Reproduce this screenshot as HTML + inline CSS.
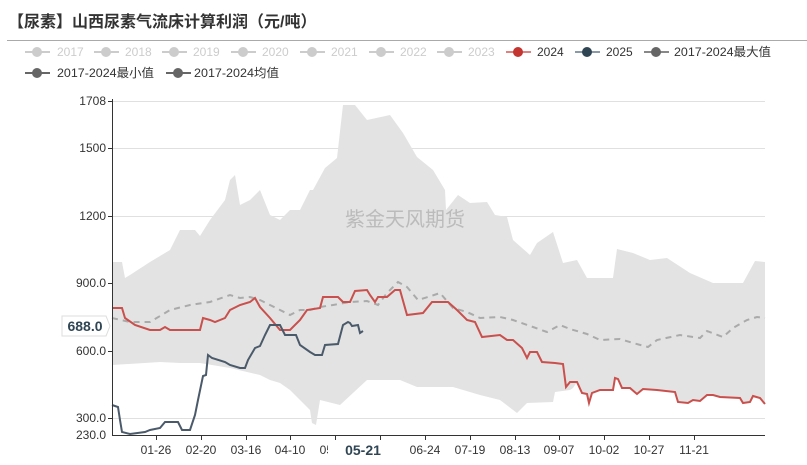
<!DOCTYPE html>
<html><head><meta charset="utf-8"><style>
body{margin:0;background:#fff;width:807px;height:460px;overflow:hidden;font-family:"Liberation Sans","Noto Sans CJK SC",sans-serif}
</style></head><body>
<svg width="807" height="460" xmlns="http://www.w3.org/2000/svg" font-family="Liberation Sans, Noto Sans CJK SC, sans-serif">
<defs><clipPath id="c5"><rect x="300" y="440" width="28" height="20"/></clipPath></defs>
<text x="8" y="27" font-size="16" font-weight="bold" fill="#333">【尿素】山西尿素气流床计算利润（元/吨）</text>
<line x1="7" y1="40.5" x2="807" y2="40.5" stroke="#aaa" stroke-width="1"/>
<g font-size="12">
<g fill="#ccc" stroke="#ccc">
<line x1="25" y1="52" x2="50" y2="52" stroke-width="2"/><circle cx="37" cy="52" r="5" stroke="none"/>
<line x1="94" y1="52" x2="119" y2="52" stroke-width="2"/><circle cx="106" cy="52" r="5" stroke="none"/>
<line x1="162" y1="52" x2="187" y2="52" stroke-width="2"/><circle cx="174" cy="52" r="5" stroke="none"/>
<line x1="231" y1="52" x2="256" y2="52" stroke-width="2"/><circle cx="243" cy="52" r="5" stroke="none"/>
<line x1="300" y1="52" x2="325" y2="52" stroke-width="2"/><circle cx="312" cy="52" r="5" stroke="none"/>
<line x1="369" y1="52" x2="394" y2="52" stroke-width="2"/><circle cx="381" cy="52" r="5" stroke="none"/>
<line x1="437" y1="52" x2="462" y2="52" stroke-width="2"/><circle cx="449" cy="52" r="5" stroke="none"/>
</g>
<g fill="#ccc">
<text x="57" y="56">2017</text><text x="125" y="56">2018</text><text x="193" y="56">2019</text><text x="262" y="56">2020</text><text x="331" y="56">2021</text><text x="400" y="56">2022</text><text x="468" y="56">2023</text>
</g>
<line x1="506" y1="52" x2="531" y2="52" stroke="#e08080" stroke-width="2"/><circle cx="518" cy="52" r="5" fill="#c23531"/>
<text x="537" y="56" fill="#333">2024</text>
<line x1="575" y1="52" x2="600" y2="52" stroke="#8a9aa8" stroke-width="2"/><circle cx="587" cy="52" r="5" fill="#2f4554"/>
<text x="606" y="56" fill="#333">2025</text>
<line x1="644" y1="52" x2="669" y2="52" stroke="#888" stroke-width="2"/><circle cx="656" cy="52" r="5" fill="#666"/>
<text x="674" y="56" fill="#333" textLength="97" lengthAdjust="spacingAndGlyphs">2017-2024最大值</text>
<line x1="25" y1="73" x2="50" y2="73" stroke="#666" stroke-width="2"/><circle cx="37" cy="73" r="5" fill="#666"/>
<text x="57" y="77" fill="#333" textLength="97" lengthAdjust="spacingAndGlyphs">2017-2024最小值</text>
<line x1="166" y1="73" x2="191" y2="73" stroke="#666" stroke-width="2"/><circle cx="178" cy="73" r="5" fill="#666"/>
<text x="194" y="77" fill="#333" textLength="85" lengthAdjust="spacingAndGlyphs">2017-2024均值</text>
</g>
<g stroke="#e0e0e0" stroke-width="1">
<line x1="112" y1="101.5" x2="765" y2="101.5"/><line x1="112" y1="148.5" x2="765" y2="148.5"/><line x1="112" y1="216.5" x2="765" y2="216.5"/><line x1="112" y1="283.5" x2="765" y2="283.5"/><line x1="112" y1="351.5" x2="765" y2="351.5"/><line x1="112" y1="418.5" x2="765" y2="418.5"/>
</g>
<polygon fill="#e3e3e3" points="112,262 122,262 125,278 130,275 150,262 170,250 180,230 195,230 200,236 210,220 225,200 230,180 235,175 240,205 250,200 260,190 270,215 280,220 290,210 300,210 310,190 313,190 325,168 337,158 343,105 355,105 367,120 390,115 403,133 417,157 433,170 445,190 446,210 458,195 470,203 487,202 495,215 507,217 513,240 530,255 537,243 553,232 563,263 577,260 587,278 613,278 617,249 633,253 650,260 667,258 690,273 713,283 743,283 755,261 765,262 765,404 760,398 753,396 750,402 743,403 740,398 720,397 713,395 707,395 700,401 693,400 688,403 678,402 675,392 657,390 643,389 637,394 630,388 622,388 618,379 615,378 613,390 600,390 592,393 589,403 587,394 582,393 577,382 573,388 570,390 555,392 553,402 527,403 517,413 500,400 480,395 453,387 417,387 400,380 367,380 340,405 320,400 316,425 312,423 310,410 300,400 290,390 280,383 270,380 260,375 230,368 200,363 180,363 160,362 112,365"/>
<text x="405" y="226" font-size="20" fill="#bbb" text-anchor="middle">紫金天风期货</text>
<polyline fill="none" stroke="#aaa" stroke-width="2" stroke-dasharray="6,5" points="112,318 130,322 150,322 170,310 190,305 210,302 230,295 240,298 250,297 260,300 280,310 290,315 300,310 310,310 320,307 333,305 350,302 367,301 378,305 387,293 398,282 407,287 418,300 428,297 440,293 453,308 467,312 480,318 500,317 513,320 533,327 547,332 560,325 570,329 587,334 600,340 620,339 633,343 648,347 657,340 680,335 700,338 707,331 723,337 733,328 747,320 757,317 765,318"/>
<polyline fill="none" stroke="#c9504c" stroke-width="2" points="112,308 122,308 125,318 135,325 150,330 160,330 165,327 170,330 200,330 203,318 210,320 215,322 225,318 230,310 240,305 250,302 255,298 260,307 270,318 280,330 290,330 300,320 307,310 320,308 323,297 338,297 343,302 350,302 355,291 367,290 370,295 375,302 378,297 387,297 395,290 400,290 407,315 423,313 432,302 448,302 457,310 467,320 475,322 482,337 500,335 507,340 513,340 522,348 527,358 530,352 537,352 542,362 555,363 563,364 566,387 570,382 577,382 582,393 587,394 589,403 592,393 600,390 613,390 615,378 618,379 622,388 630,388 637,394 643,389 657,390 675,392 678,402 688,403 693,400 700,401 707,395 713,395 720,397 740,398 743,403 750,402 753,396 760,398 765,404"/>
<polyline fill="none" stroke="#4a5a6a" stroke-width="2" points="112,405 118,407 120,420 122,432 130,434 145,432 150,430 160,428 165,422 178,422 182,430 190,430 195,415 198,400 203,376 206,375 208,355 212,358 225,362 230,365 240,368 245,368 248,360 255,348 260,346 265,335 270,325 280,325 285,335 296,335 300,345 310,352 315,355 322,355 325,345 338,344 343,325 348,322 350,323 352,326 358,325 360,333 363,331"/>
<g stroke="#333" stroke-width="1">
<line x1="112.5" y1="99" x2="112.5" y2="435"/><line x1="112" y1="435.5" x2="765" y2="435.5"/>
<line x1="108" y1="101.5" x2="112" y2="101.5"/><line x1="108" y1="148.5" x2="112" y2="148.5"/><line x1="108" y1="216.5" x2="112" y2="216.5"/><line x1="108" y1="283.5" x2="112" y2="283.5"/><line x1="108" y1="351.5" x2="112" y2="351.5"/><line x1="108" y1="418.5" x2="112" y2="418.5"/>
<line x1="156.5" y1="435" x2="156.5" y2="440"/><line x1="201.5" y1="435" x2="201.5" y2="440"/><line x1="246.5" y1="435" x2="246.5" y2="440"/><line x1="290.5" y1="435" x2="290.5" y2="440"/><line x1="335.5" y1="435" x2="335.5" y2="440"/><line x1="380.5" y1="435" x2="380.5" y2="440"/><line x1="425.5" y1="435" x2="425.5" y2="440"/><line x1="470.5" y1="435" x2="470.5" y2="440"/><line x1="515.5" y1="435" x2="515.5" y2="440"/><line x1="559.5" y1="435" x2="559.5" y2="440"/><line x1="604.5" y1="435" x2="604.5" y2="440"/><line x1="649.5" y1="435" x2="649.5" y2="440"/><line x1="694.5" y1="435" x2="694.5" y2="440"/>
</g>
<g font-size="12" fill="#333" text-anchor="end">
<text x="106" y="105">1708</text><text x="106" y="152">1500</text><text x="106" y="220">1200</text><text x="106" y="287">900.0</text><text x="106" y="355">600.0</text><text x="106" y="422">300.0</text><text x="106" y="439">230.0</text>
</g>
<g font-size="12" fill="#333" text-anchor="middle">
<text x="156" y="454">01-26</text><text x="201" y="454">02-20</text><text x="246" y="454">03-16</text><text x="290" y="454">04-10</text><text x="425" y="454">06-24</text><text x="470" y="454">07-19</text><text x="515" y="454">08-13</text><text x="559" y="454">09-07</text><text x="604" y="454">10-02</text><text x="649" y="454">10-27</text><text x="694" y="454">11-21</text>
</g>
<text x="335" y="454" font-size="12" fill="#333" text-anchor="middle" clip-path="url(#c5)">05-21</text>
<text x="363" y="455" font-size="14" font-weight="bold" fill="#2f4554" text-anchor="middle">05-21</text>
<path d="M62,316 H106 L110,326 L106,336 H62 Z" fill="#fff" stroke="#ddd"/>
<text x="85" y="331" font-size="14" font-weight="bold" fill="#2f4554" text-anchor="middle">688.0</text>
</svg>
</body></html>
